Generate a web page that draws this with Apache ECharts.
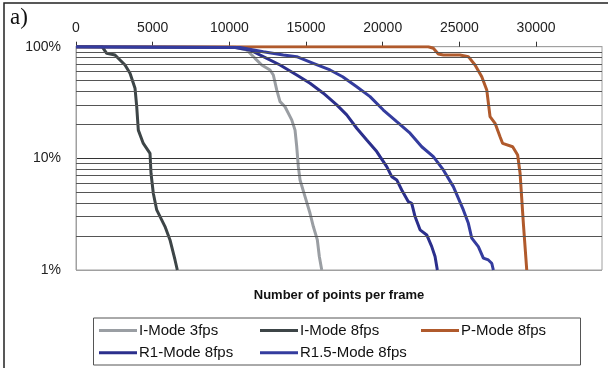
<!DOCTYPE html>
<html>
<head>
<meta charset="utf-8">
<script src="https://cdn.jsdelivr.net/npm/echarts@6/dist/echarts.min.js"></script>
<style>
html,body{margin:0;padding:0;background:#fff;}
#chart{width:608px;height:368px;}
</style>
</head>
<body>
<div id="chart"></div>
<script>
// ---- data (x: number of points per frame, y: percent of frames) ----
const seriesNames = ['I-Mode 3fps', 'I-Mode 8fps', 'P-Mode 8fps', 'R1-Mode 8fps', 'R1.5-Mode 8fps'];

const iMode3X = [0, 10370, 11133, 11348, 11674, 12111, 12652, 12868, 13089, 13304, 13630, 14067, 14283, 14394, 14498, 14609, 14935, 15261, 15476, 15737, 15867, 16024];
const iMode3Y = [100, 99, 93.4, 87.3, 78.7, 68.6, 61.8, 55.8, 41.0, 32.2, 29.0, 22.1, 17.9, 12.7, 8.43, 6.40, 4.54, 3.22, 2.45, 1.86, 1.32, 1.0];

const iMode8X = [0, 1700, 1780, 2000, 2543, 3196, 3522, 3848, 3959, 4063, 4389, 4826, 4891, 5041, 5263, 5804, 6130, 6457, 6607];
const iMode8Y = [100, 100, 96.8, 87.3, 84.3, 68.6, 57.8, 42.5, 29.0, 17.9, 13.6, 11.1, 7.36, 4.87, 3.45, 2.45, 1.86, 1.23, 1.0];

const pModeX = [0, 22976, 23302, 23628, 23954, 25043, 25585, 26022, 26459, 26785, 27000, 27326, 27652, 27822, 28474, 28800, 28957, 29172, 29393];
const pModeY = [100, 100, 96.8, 86.0, 84.3, 84.3, 81.4, 68.6, 53.8, 41.0, 23.6, 20.6, 15.6, 13.6, 12.7, 10.7, 7.36, 2.62, 1.0];

const r1X = [0, 10370, 11348, 12215, 13304, 14394, 15261, 16128, 17002, 17654, 18307, 18959, 19611, 19826, 20263, 20589, 20915, 21241, 21672, 21893, 22109, 22435, 22872, 23198, 23413, 23563];
const r1Y = [100, 98.5, 93.4, 81.4, 68.6, 55.8, 47.0, 38.3, 30.1, 24.5, 18.6, 14.6, 11.5, 10.35, 8.43, 6.86, 6.41, 5.21, 4.09, 3.96, 3.01, 2.29, 2.06, 1.62, 1.32, 1.0];

const r15X = [0, 10696, 12215, 13520, 14394, 15476, 16565, 17387, 18307, 19174, 20041, 20915, 21783, 22546, 23302, 23954, 24607, 24887, 25259, 25585, 25807, 26237, 26563, 26889, 27111, 27215];
const r15Y = [100, 98.4, 90.2, 84.3, 81.4, 71.0, 61.9, 53.8, 43.8, 35.7, 27.1, 21.3, 16.8, 12.7, 10.35, 7.87, 5.58, 4.54, 3.45, 2.62, 1.93, 1.62, 1.28, 1.23, 1.15, 1.0];

const xTicks = [0, 5000, 10000, 15000, 20000, 25000, 30000];
const yMinorLines = [2, 3, 4, 5, 6, 7, 8, 9, 20, 30, 40, 50, 60, 70, 80, 90];
const xAxisTitle = 'Number of points per frame';
const panelLabel = 'a)';

const colors = ['#9a9ea3', '#3d4547', '#b05a2c', '#2b2f8c', '#343c9e'];

function pairs(xs, ys) { return xs.map((x, i) => [x, ys[i]]); }
const dataSets = [pairs(iMode3X, iMode3Y), pairs(iMode8X, iMode8Y), pairs(pModeX, pModeY), pairs(r1X, r1Y), pairs(r15X, r15Y)];

const chart = echarts.init(document.getElementById('chart'), null, {renderer: 'canvas'});

const lineSeries = seriesNames.map((n, i) => ({
  name: n,
  type: 'line',
  data: dataSets[i],
  showSymbol: false,
  symbol: 'none',
  smooth: false,
  z: 3,
  lineStyle: {color: colors[i], width: 3},
  itemStyle: {color: colors[i]},
  emphasis: {disabled: true},
  animation: false
}));

const legendCommon = {
  top: 321.5,
  orient: 'vertical',
  icon: 'rect',
  itemWidth: 38,
  itemHeight: 3,
  itemGap: 4.3,
  padding: 0,
  selectedMode: false,
  textStyle: {fontSize: 15, lineHeight: 18, color: '#111', fontFamily: 'Liberation Sans', padding: [0, 0, 0, -3]}
};

chart.setOption({
  animation: false,
  backgroundColor: '#fff',
  grid: {left: 76, right: 6, top: 46.7, bottom: 98, show: true, borderColor: '#a0a0a0', borderWidth: 1, backgroundColor: 'transparent'},
  xAxis: {
    type: 'value', position: 'top', min: 0, max: 34300, interval: 5000,
    axisLine: {show: true, lineStyle: {color: '#a0a0a0', width: 1}},
    axisTick: {show: true, inside: false, length: 5, customValues: xTicks, lineStyle: {color: '#333'}},
    axisLabel: {customValues: xTicks, fontSize: 14, color: '#222', margin: 12, fontFamily: 'Liberation Sans',
      formatter: v => (v % 5000 === 0 && v <= 30000) ? String(v) : ''},
    splitLine: {show: false}
  },
  yAxis: {
    type: 'log', logBase: 10, min: 1, max: 100,
    axisLine: {show: true, lineStyle: {color: '#a0a0a0', width: 1}},
    axisTick: {show: false},
    axisLabel: {fontSize: 14, color: '#222', margin: 15, fontFamily: 'Liberation Sans', formatter: v => v + '%'},
    splitLine: {show: true, lineStyle: {color: ['#a0a0a0', '#333', '#a0a0a0'], width: 1}}
  },
  legend: [
    Object.assign({}, legendCommon, {left: 99, data: [seriesNames[0], seriesNames[3]]}),
    Object.assign({}, legendCommon, {left: 260, data: [seriesNames[1], seriesNames[4]]}),
    Object.assign({}, legendCommon, {left: 421, data: [seriesNames[2]]})
  ],
  graphic: [
    {type: 'rect', shape: {x: 4, y: 3, width: 700, height: 500}, style: {fill: 'none', stroke: '#222', lineWidth: 1.5}, silent: true, z: 100},
    {type: 'rect', shape: {x: 93.5, y: 318, width: 487, height: 47}, style: {fill: 'none', stroke: '#555', lineWidth: 1}, silent: true, z: 100},
    {type: 'text', x: 10, y: 6, style: {text: panelLabel, font: '23px "Liberation Serif"', fill: '#111'}, silent: true},
    {type: 'text', x: 339, y: 295.5, style: {text: xAxisTitle, font: 'bold 13px "Liberation Sans"', fill: '#111', textAlign: 'center', textVerticalAlign: 'middle'}, silent: true}
  ],
  series: [{
    name: '_grid', type: 'line', data: [], silent: true, z: 1,
    markLine: {
      silent: true, symbol: ['none', 'none'], animation: false,
      label: {show: false},
      lineStyle: {color: '#555', width: 1, type: 'solid'},
      emphasis: {disabled: true},
      data: yMinorLines.map(v => ({yAxis: v}))
    }
  }].concat(lineSeries)
});
</script>
</body>
</html>
